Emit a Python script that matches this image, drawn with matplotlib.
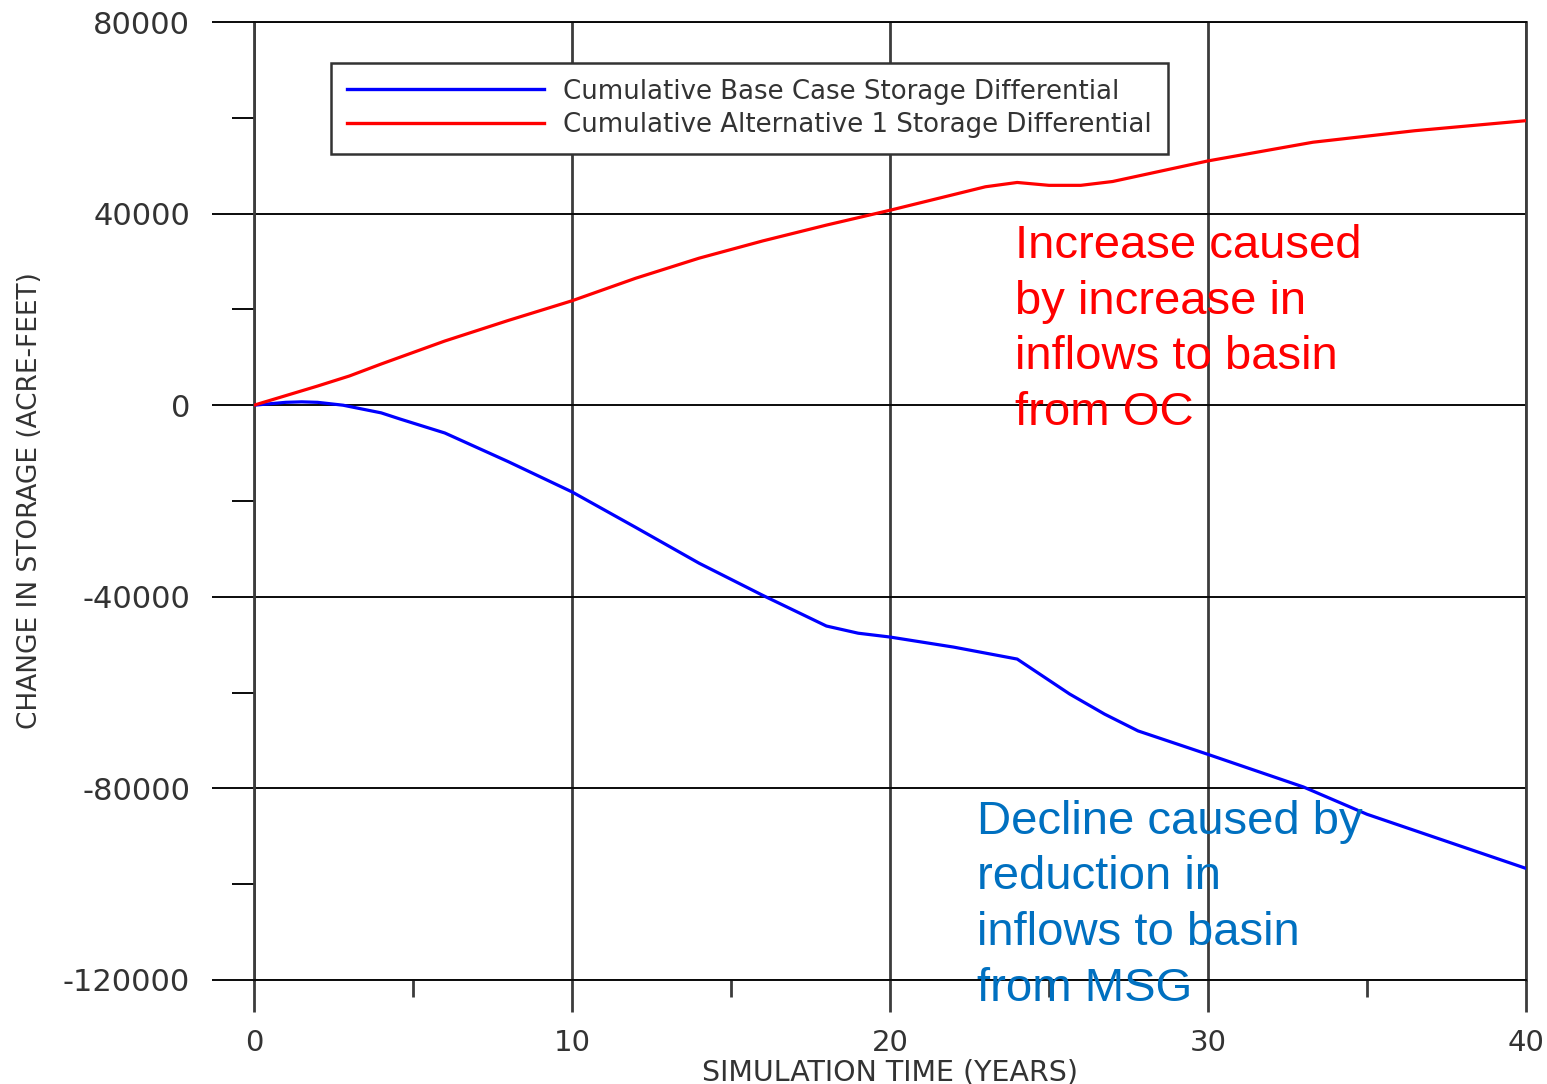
import matplotlib
matplotlib.use("Agg")
import matplotlib.pyplot as plt
from matplotlib.ticker import MultipleLocator

# ---- data ----
base_years = [0, 1, 1.5, 2, 2.8, 4, 4.6, 6, 6.2, 8, 10, 12, 14, 16, 18, 19, 20, 22, 24,
              25.65, 26.75, 27.8, 30, 33, 35, 40]
base_values = [0, 600, 700, 600, 0, -1600, -2900, -5800, -6400, -11800, -18100, -25500,
               -33000, -39700, -46100, -47600, -48400, -50500, -53000, -60300, -64500,
               -68000, -72900, -79700, -85400, -96700]

alt_years = [0, 2, 3, 4, 6, 8, 10, 12, 14, 16, 18, 20, 23, 24, 25, 26, 27, 30, 33.3, 36.5, 40]
alt_values = [0, 4000, 6100, 8600, 13400, 17700, 21800, 26500, 30700, 34300, 37600, 40700,
              45600, 46500, 45900, 45900, 46700, 51000, 54900, 57300, 59400]

series_labels = ["Cumulative Base Case Storage Differential",
                 "Cumulative Alternative 1 Storage Differential"]
x_ticks = [0, 10, 20, 30, 40]
y_ticks = [-120000, -80000, -40000, 0, 40000, 80000]
x_label = "SIMULATION TIME (YEARS)"
y_label = "CHANGE IN STORAGE (ACRE-FEET)"
note_increase = "Increase caused\nby increase in\ninflows to basin\nfrom OC"
note_decline = "Decline caused by\nreduction in\ninflows to basin\nfrom MSG"

# ---- figure ----
W, H = 1547, 1084
fig = plt.figure(figsize=(W / 100, H / 100), dpi=100)
ax = fig.add_axes([254 / W, 1 - 980 / H, (1526 - 254) / W, (980 - 22) / H])

ax.set_xlim(0, 40)
ax.set_ylim(-120000, 80000)

vcol = "#3c3c3c"
hcol = "#0a0a0a"
vlw = 2.0
hlw = 1.4
ax.xaxis.grid(True, which="major", color=vcol, lw=vlw)
ax.yaxis.grid(True, which="major", color=hcol, lw=hlw)
ax.set_axisbelow(True)

for side in ["left", "right"]:
    ax.spines[side].set_color(vcol)
    ax.spines[side].set_linewidth(vlw)
for side in ["top", "bottom"]:
    ax.spines[side].set_color(hcol)
    ax.spines[side].set_linewidth(hlw)

ax.plot(base_years, base_values, color="#0000FF", lw=2.3, label=series_labels[0], zorder=3)
ax.plot(alt_years, alt_values, color="#FF0000", lw=2.3, label=series_labels[1], zorder=3)

ax.set_xticks(x_ticks)
ax.set_yticks(y_ticks)
ax.xaxis.set_minor_locator(MultipleLocator(5))
ax.yaxis.set_minor_locator(MultipleLocator(20000))
ax.set_xticklabels([str(v) for v in x_ticks])
ax.set_yticklabels([str(v) for v in y_ticks])

ax.tick_params(axis="x", which="major", length=23, width=vlw, color=vcol, pad=12,
               labelsize=21, labelcolor="#333333")
ax.tick_params(axis="x", which="minor", length=12, width=vlw, color=vcol)
ax.tick_params(axis="y", which="major", length=30, width=hlw, color=hcol, pad=16,
               labelsize=22, labelcolor="#333333")
ax.tick_params(axis="y", which="minor", length=16, width=hlw, color=hcol)
for lab in ax.get_xticklabels() + ax.get_yticklabels():
    lab.set_family("DejaVu Sans")

ax.set_xlabel(x_label, fontsize=20.5, color="#333333", labelpad=1, family="DejaVu Sans")
ax.set_ylabel(y_label, fontsize=19, color="#333333", family="DejaVu Sans")
ax.yaxis.set_label_coords((43 - 254) / 1272, 0.5)

leg = ax.legend(loc="upper left", bbox_to_anchor=((331 - 254) / 1272, (980 - 63) / 958),
                borderaxespad=0, handlelength=7.6, handletextpad=0.75,
                labelspacing=0.3, borderpad=0.6, fancybox=False, framealpha=1,
                edgecolor="#333333", prop={"family": "DejaVu Sans", "size": 18.7})
leg.get_frame().set_linewidth(1.8)
for t in leg.get_texts():
    t.set_color("#333333")
for ln in leg.get_lines():
    ln.set_linewidth(2.4)

ax.text(23.93, 37800, note_increase, color="#FF0000", fontsize=34, family="Liberation Sans",
        va="top", ha="left", linespacing=1.34, zorder=4)
ax.text(22.74, -82400, note_decline, color="#0070C0", fontsize=34, family="Liberation Sans",
        va="top", ha="left", linespacing=1.34, zorder=4)

fig.savefig("out.png", dpi=100)
